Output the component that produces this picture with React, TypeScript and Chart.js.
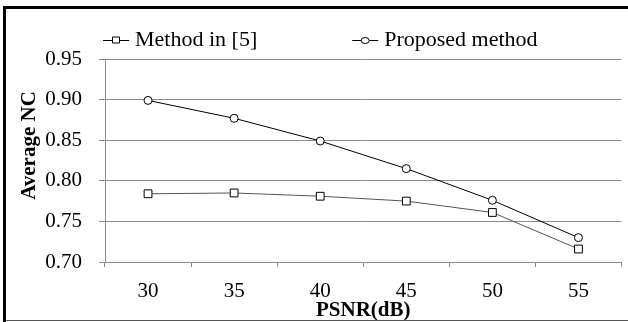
import React, { useEffect, useRef } from "react";
import { Chart, registerables } from "chart.js";

Chart.register(...registerables);

const categories = ["30", "35", "40", "45", "50", "55"];
const methodIn5 = [0.784, 0.785, 0.781, 0.775, 0.761, 0.716];
const proposed = [0.899, 0.877, 0.849, 0.815, 0.776, 0.730];
const seriesLabels = ["Method in [5]", "Proposed method"];
const yTickValues = [0.7, 0.75, 0.8, 0.85, 0.9, 0.95];
const xTitle = "PSNR(dB)";
const yTitle = "Average NC";

const FONT = "'Liberation Serif', 'Times New Roman', serif";

const framePlugin = {
  id: "frame",
  beforeDraw(chart: any) {
    const { ctx, width, height } = chart;
    ctx.save();
    ctx.fillStyle = "#ffffff";
    ctx.fillRect(0, 0, width, height);
    ctx.restore();
  },
  afterDraw(chart: any) {
    const { ctx, width, height, chartArea } = chart;
    ctx.save();
    // frame
    ctx.fillStyle = "#000000";
    ctx.fillRect(3, 6, width - 3, 3);
    ctx.fillRect(3, 6, 3, height - 6);
    ctx.fillStyle = "#555555";
    ctx.fillRect(6, height - 2, width - 6, 1);
    // y title
    ctx.fillStyle = "#000000";
    ctx.font = `bold 21px ${FONT}`;
    ctx.textAlign = "center";
    ctx.textBaseline = "middle";
    ctx.translate(30, (chartArea.top + chartArea.bottom) / 2 - 15);
    ctx.rotate(-Math.PI / 2);
    ctx.fillText(yTitle, 0, 0);
    ctx.restore();

    // legend
    ctx.save();
    ctx.font = `22px ${FONT}`;
    ctx.textBaseline = "middle";
    ctx.textAlign = "left";
    const y = 40;
    let x = chartArea.left - 2;
    chart.data.datasets.forEach((ds: any, i: number) => {
      const lineLen = 26;
      ctx.strokeStyle = "#000";
      ctx.lineWidth = 1;
      ctx.beginPath();
      ctx.moveTo(x, y + 0.5);
      ctx.lineTo(x + lineLen, y + 0.5);
      ctx.stroke();
      ctx.fillStyle = "#fff";
      ctx.beginPath();
      if (ds.pointStyle === "rect") {
        ctx.rect(x + lineLen / 2 - 3.5, y - 3, 7, 6);
      } else {
        ctx.ellipse(x + lineLen / 2, y + 0.5, 4, 3, 0, 0, Math.PI * 2);
      }
      ctx.fill();
      ctx.stroke();
      ctx.fillStyle = "#000";
      ctx.fillText(ds.label, x + lineLen + 6, y);
      const w = ctx.measureText(ds.label).width;
      x = x + lineLen + 6 + w + 95;
    });
    ctx.restore();
  },
};

export default function App() {
  const ref = useRef<HTMLCanvasElement>(null);
  useEffect(() => {
    if (!ref.current) return;
    const chart = new Chart(ref.current, {
      type: "line",
      data: {
        labels: categories,
        datasets: [
          {
            label: seriesLabels[0],
            data: methodIn5,
            borderColor: "#555555",
            borderWidth: 1,
            pointStyle: "rect",
            pointRadius: 5.5,
            pointBorderColor: "#000000",
            pointBackgroundColor: "#ffffff",
            pointBorderWidth: 1,
            tension: 0,
          },
          {
            label: seriesLabels[1],
            data: proposed,
            borderColor: "#000000",
            borderWidth: 1,
            pointStyle: "circle",
            pointRadius: 4,
            pointBorderColor: "#000000",
            pointBackgroundColor: "#ffffff",
            pointBorderWidth: 1,
            tension: 0,
          },
        ],
      },
      options: {
        animation: false,
        responsive: false,
        devicePixelRatio: 1,
        layout: { padding: { top: 59, right: 4, left: 0, bottom: 0 } },
        plugins: {
          legend: { display: false },
          tooltip: { enabled: false },
        },
        scales: {
          x: {
            type: "category",
            offset: true,
            grid: {
              offset: true,
              drawOnChartArea: false,
              drawTicks: true,
              tickLength: 5,
              color: "#8c8c8c",
            },
            border: { color: "#8c8c8c" },
            ticks: {
              color: "#000",
              font: { family: FONT, size: 21, lineHeight: 1 },
              padding: 14,
              maxRotation: 0,
            },
            title: {
              display: true,
              text: xTitle,
              color: "#000",
              font: { family: FONT, size: 21, weight: "bold", lineHeight: 1.1 },
              padding: { top: 0, bottom: 0 },
            },
            afterFit(scale: any) {
              scale.height = 60;
            },
          },
          y: {
            min: 0.7,
            max: 0.95,
            afterBuildTicks(scale: any) {
              scale.ticks = yTickValues.map((v) => ({ value: v }));
            },
            grid: {
              color: "#8c8c8c",
              tickLength: 6,
            },
            border: { color: "#8c8c8c" },
            ticks: {
              color: "#000",
              font: { family: FONT, size: 21 },
              padding: 17,
              callback: (v: any) => Number(v).toFixed(2),
            },
            afterFit(scale: any) {
              scale.width = 105;
            },
          },
        },
      },
      plugins: [framePlugin],
    });
    return () => chart.destroy();
  }, []);
  return (
    <div style={{ position: "fixed", left: 0, top: 0, width: 628, height: 322 }}>
      <canvas ref={ref} width={628} height={322} style={{ width: 628, height: 322, display: "block" }} />
    </div>
  );
}
